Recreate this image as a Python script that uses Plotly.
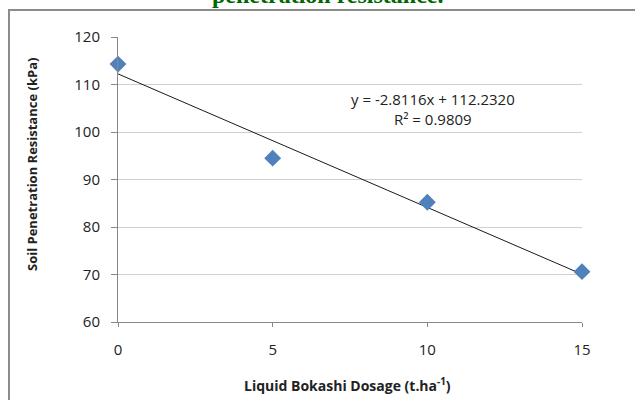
import plotly.graph_objects as go

# Data
dosage = [0, 5, 10, 15]
resistance = [114.3, 94.5, 85.2, 70.6]
slope = -2.8116
intercept = 112.2320
r_squared = 0.9809
x_ticks = [0, 5, 10, 15]
y_ticks = [60, 70, 80, 90, 100, 110, 120]

W, H = 635, 400
L, R, T, B = 118, 53, 37, 78
pw, ph = W - L - R, H - T - B

def px_x(p):
    return (p - L) / pw

def px_y(p):
    return (H - B - p) / ph

trend_x = [min(dosage), max(dosage)]
trend_y = [slope * v + intercept for v in trend_x]

fig = go.Figure()
fig.add_trace(go.Scatter(x=trend_x, y=trend_y, mode="lines",
                         line=dict(color="#1a1a1a", width=1), hoverinfo="skip",
                         cliponaxis=False))
fig.add_trace(go.Scatter(x=dosage, y=resistance, mode="markers",
                         marker=dict(symbol="diamond", size=13, color="#4F81BD",
                                     line=dict(width=0)),
                         cliponaxis=False))

font_fam = "Open Sans, Noto Sans, sans-serif"
txt = "#222222"
fig.update_layout(
    width=W, height=H,
    margin=dict(l=L, r=R, t=T, b=B, pad=0),
    paper_bgcolor="white", plot_bgcolor="white",
    showlegend=False,
    font=dict(family=font_fam, color=txt),
    xaxis=dict(range=[0, 15], tickvals=x_ticks, showgrid=False, zeroline=False,
               showline=True, linecolor="#888888", linewidth=1, automargin=False,
               ticks="outside", ticklen=4, tickcolor="#888888", ticklabelstandoff=10,
               tickfont=dict(size=15, family=font_fam, color=txt)),
    yaxis=dict(range=[60, 120], tickvals=y_ticks, showgrid=True, gridcolor="#d0d0d0",
               gridwidth=1, zeroline=False, showline=True, linecolor="#888888",
               linewidth=1, ticks="outside", ticklen=6, tickcolor="#888888",
               automargin=False, ticklabelstandoff=8,
               tickfont=dict(size=15, family=font_fam, color=txt)),
    shapes=[dict(type="rect", xref="paper", yref="paper",
                 x0=px_x(9), x1=px_x(645), y0=px_y(410), y1=px_y(10),
                 line=dict(color="#8c8c8c", width=2), layer="below")],
    annotations=[
        dict(text="<b>Liquid Bokashi Dosage (t.ha<sup>-1</sup>)</b>", xref="paper", yref="paper",
             x=px_x(347), y=px_y(385), showarrow=False, xanchor="center", yanchor="middle",
             font=dict(size=14, family=font_fam, color=txt)),
        dict(text="<b>Soil Penetration Resistance (kPa)</b>", xref="paper", yref="paper",
             x=px_x(32), y=px_y(165), showarrow=False, xanchor="center", yanchor="middle",
             textangle=-90, font=dict(size=13, family=font_fam, color=txt)),
        dict(text="y = -2.8116x + 112.2320", xref="paper", yref="paper",
             x=px_x(433), y=px_y(99), showarrow=False, xanchor="center", yanchor="middle",
             font=dict(size=15, family=font_fam, color=txt)),
        dict(text=f"R² = {r_squared:.4f}", xref="paper", yref="paper",
             x=px_x(433), y=px_y(119), showarrow=False, xanchor="center", yanchor="middle",
             font=dict(size=15, family=font_fam, color=txt)),
        dict(text="<b>penetration resistance.</b>", xref="paper", yref="paper",
             x=px_x(328), y=px_y(10), showarrow=False, xanchor="center", yanchor="bottom",
             font=dict(size=24, family="Liberation Serif, Times New Roman, serif",
                       color="#006600")),
    ],
)

fig.write_html("out.html", config={"displayModeBar": False},
               post_script="document.body.style.margin='0';document.body.style.padding='0';document.body.style.overflow='hidden';")
